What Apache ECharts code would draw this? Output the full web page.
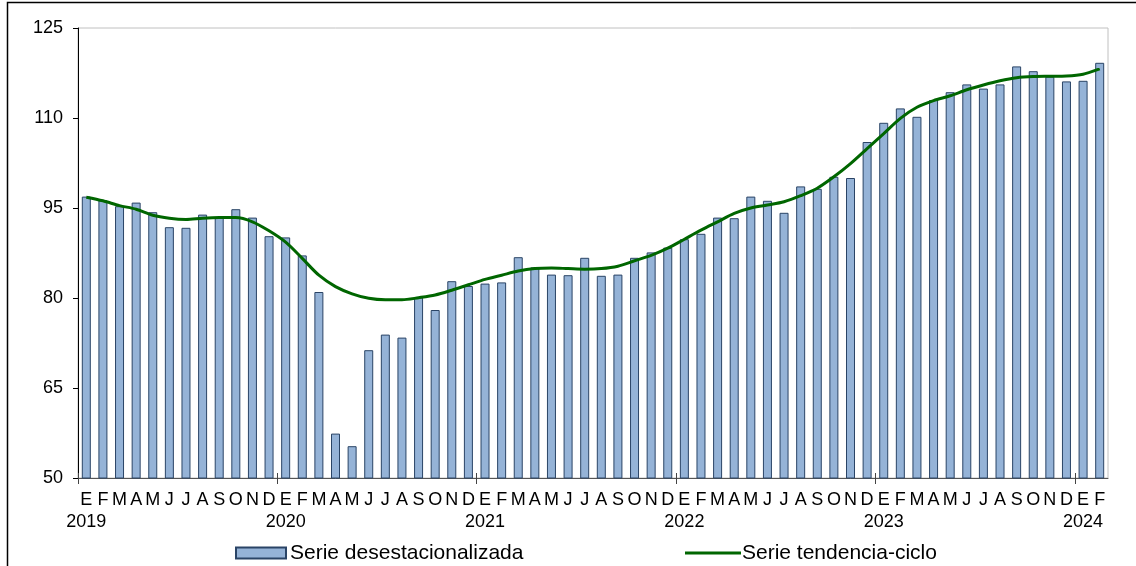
<!DOCTYPE html>
<html>
<head>
<meta charset="utf-8">
<script src="https://cdn.jsdelivr.net/npm/echarts@6/dist/echarts.min.js"></script>
<style>
html,body{margin:0;padding:0;background:#fff;}
#chart{width:1136px;height:566px;}
</style>
</head>
<body>
<div id="chart"></div>
<script>
const monthLetters = ['E','F','M','A','M','J','J','A','S','O','N','D'];
const years = ['2019','2020','2021','2022','2023','2024'];
const monthCount = 62;

const desestacionalizada = [
  96.9, 96.3, 95.3, 95.9, 94.3, 91.8, 91.7, 93.9, 93.4, 94.8, 93.4, 90.3,
  90.1, 87.1, 81.0, 57.4, 55.3, 71.3, 73.9, 73.4, 80.1, 78.0, 82.8, 82.0,
  82.4, 82.6, 86.8, 85.1, 83.9, 83.8, 86.7, 83.7, 83.9, 86.7, 87.6, 88.4,
  89.8, 90.7, 93.4, 93.3, 96.9, 96.2, 94.2, 98.6, 98.2, 100.2, 100.0, 106.0,
  109.2, 111.6, 110.2, 113.0, 114.3, 115.6, 114.9, 115.6, 118.6, 117.8, 116.9, 116.1,
  116.2, 119.2
];
const tendenciaCiclo = [
  96.8, 96.2, 95.4, 94.8, 93.8, 93.3, 93.1, 93.3, 93.4, 93.4, 92.7, 91.2,
  89.3, 86.6, 83.8, 81.9, 80.7, 79.95, 79.7, 79.7, 80.05, 80.5, 81.3, 82.2,
  83.1, 83.8, 84.5, 84.9, 85.0, 84.9, 84.8, 84.9, 85.3, 86.2, 87.1, 88.3,
  89.8, 91.3, 92.7, 94.1, 95.0, 95.5, 96.05, 97.05, 98.3, 100.2, 102.4, 104.9,
  107.4, 109.95, 111.8, 112.9, 113.7, 114.7, 115.5, 116.2, 116.7, 116.9, 116.95, 117.0,
  117.3, 118.2
];
const yTicks = [50, 65, 80, 95, 110, 125];

const categories = [];
for (let i = 0; i < monthCount; i++) {
  const m = i % 12;
  categories.push(m === 0 ? monthLetters[m] + '\n' + years[Math.floor(i / 12)] : monthLetters[m]);
}
const yearStarts = years.map((_, i) => i * 12);

const FONT = '"Liberation Sans", Arial, sans-serif';
const chart = echarts.init(document.getElementById('chart'), null, {renderer: 'canvas'});
chart.setOption({
  animation: false,
  backgroundColor: '#ffffff',
  textStyle: {fontFamily: FONT},
  grid: {
    left: 78, right: 28, top: 28, bottom: 88,
    show: true, borderColor: '#c0c0c0', borderWidth: 1, backgroundColor: 'transparent'
  },
  legend: [
    {
      data: ['Serie desestacionalizada'],
      left: 235, top: 541,
      itemWidth: 50, itemHeight: 11, itemGap: 4,
      icon: 'rect',
      textStyle: {fontFamily: FONT, fontSize: 21, lineHeight: 24, color: '#000', padding: [0,0,0,-1]},
      padding: 0
    },
    {
      data: ['Serie tendencia-ciclo'],
      left: 685, top: 541,
      itemWidth: 56, itemHeight: 11,
      icon: 'path://M0,4 L56,4 L56,7 L0,7 Z',
      textStyle: {fontFamily: FONT, fontSize: 21, lineHeight: 24, color: '#000', padding: [0,0,0,-4]},
      padding: 0
    }
  ],
  xAxis: [
    {
      type: 'category',
      data: categories,
      boundaryGap: true,
      axisLine: {show: true, onZero: false, lineStyle: {color: '#555555', width: 1}},
      axisTick: {show: false},
      axisLabel: {
        interval: 0,
        margin: 11,
        fontSize: 18,
        lineHeight: 22,
        color: '#000',
        fontFamily: FONT,
        align: 'center'
      },
      splitLine: {show: false}
    },
    {
      type: 'value',
      min: 0,
      max: monthCount,
      position: 'bottom',
      offset: -5,
      axisLine: {show: false},
      axisTick: {show: true, customValues: yearStarts, length: 11, lineStyle: {color: '#444444', width: 1}},
      axisLabel: {show: false},
      splitLine: {show: false}
    }
  ],
  yAxis: {
    type: 'value',
    min: yTicks[0],
    max: yTicks[yTicks.length - 1],
    interval: 15,
    axisLine: {show: true, lineStyle: {color: '#000', width: 1}},
    axisTick: {show: true, length: 5, lineStyle: {color: '#000'}},
    axisLabel: {fontSize: 18, color: '#000', fontFamily: FONT, margin: 15},
    splitLine: {show: false}
  },
  series: [
    {
      name: 'Serie desestacionalizada',
      type: 'bar',
      data: desestacionalizada,
      barWidth: 9,
      itemStyle: {color: '#95b3d7', borderColor: '#2a4466', borderWidth: 1}
    },
    {
      name: 'Serie tendencia-ciclo',
      type: 'line',
      data: tendenciaCiclo,
      smooth: 0.3,
      showSymbol: false,
      symbol: 'none',
      lineStyle: {color: '#006600', width: 3},
      itemStyle: {color: '#006600'},
      z: 5
    }
  ],
  graphic: [
    {
      type: 'rect',
      shape: {x: 7.5, y: 2.5, width: 1300, height: 800},
      style: {fill: 'none', stroke: '#000', lineWidth: 1.5},
      silent: true
    }
  ]
});
</script>
</body>
</html>
